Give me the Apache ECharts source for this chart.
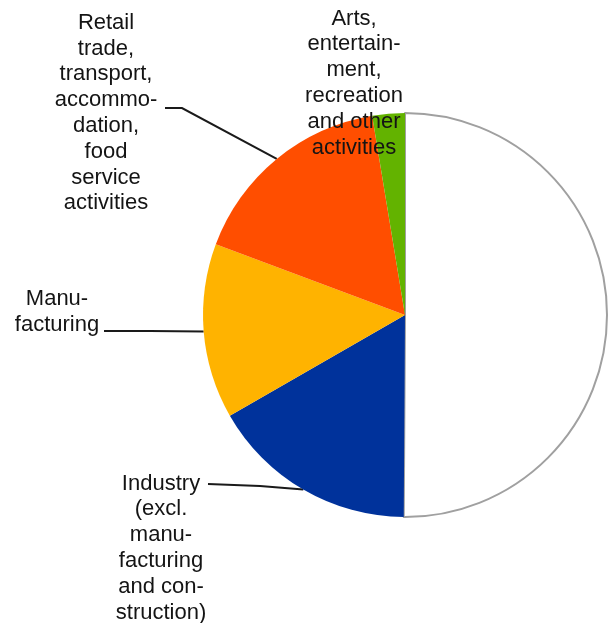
<!DOCTYPE html>
<html>
<head>
<meta charset="utf-8">
<script src="https://cdn.jsdelivr.net/npm/echarts@6/dist/echarts.min.js"></script>
<style>html,body{margin:0;padding:0;background:#fff}#c{width:608px;height:623px}</style>
</head>
<body>
<div id="c"></div>
<script>
// Data
const categories = [
  'Other, less sensitive sectors',
  'Industry (excl. manufacturing and construction)',
  'Manufacturing',
  'Retail trade, transport, accommodation, food service activities',
  'Arts, entertainment, recreation and other activities'
];
const labelTexts = [
  'Other, less\nsensitive\nsectors',
  'Industry\n(excl.\nmanu-\nfacturing\nand con-\nstruction)',
  'Manu-\nfacturing',
  'Retail\ntrade,\ntransport,\naccommo-\ndation,\nfood\nservice\nactivities',
  'Arts,\nentertain-\nment,\nrecreation\nand other\nactivities'
];
const values = [50.1, 16.6, 14.0, 16.7, 2.6];
const colors = ['#ffffff', '#00329b', '#ffb300', '#ff4e00', '#63b300'];

// Layout (label placement)
const labelPos = [[479, 316], [161, 548], [57, 312], [106, 113], [354, 83]];
const lineEnds = [null, [[260, 486], [208, 484]], [[150, 331], [104, 331]], [[182, 108], [165, 108]], null];

const chart = echarts.init(document.getElementById('c'), null, {renderer: 'canvas'});
const data = categories.map((n, i) => ({
  name: n,
  value: values[i],
  itemStyle: i === 0
    ? {color: colors[i], borderColor: '#a0a0a0', borderWidth: 2}
    : {color: colors[i], borderWidth: 0},
  labelLine: {show: !!lineEnds[i]}
}));
chart.setOption({
  backgroundColor: '#ffffff',
  animation: false,
  series: [{
    type: 'pie',
    center: [405, 315],
    radius: 202,
    startAngle: 90,
    clockwise: true,
    data: data,
    label: {
      show: true,
      position: 'outside',
      formatter: p => labelTexts[p.dataIndex],
      fontFamily: 'Liberation Sans, Arial, sans-serif',
      fontSize: 22,
      lineHeight: 25.8,
      color: '#141414',
      align: 'center'
    },
    labelLine: {
      show: true,
      lineStyle: {color: '#1a1a1a', width: 2}
    },
    labelLayout: function (params) {
      const i = params.dataIndex;
      const res = {x: labelPos[i][0], y: labelPos[i][1], align: 'center', verticalAlign: 'middle'};
      if (lineEnds[i] && params.labelLinePoints) {
        res.labelLinePoints = [params.labelLinePoints[0], lineEnds[i][0], lineEnds[i][1]];
      }
      return res;
    }
  }]
});
</script>
</body>
</html>
